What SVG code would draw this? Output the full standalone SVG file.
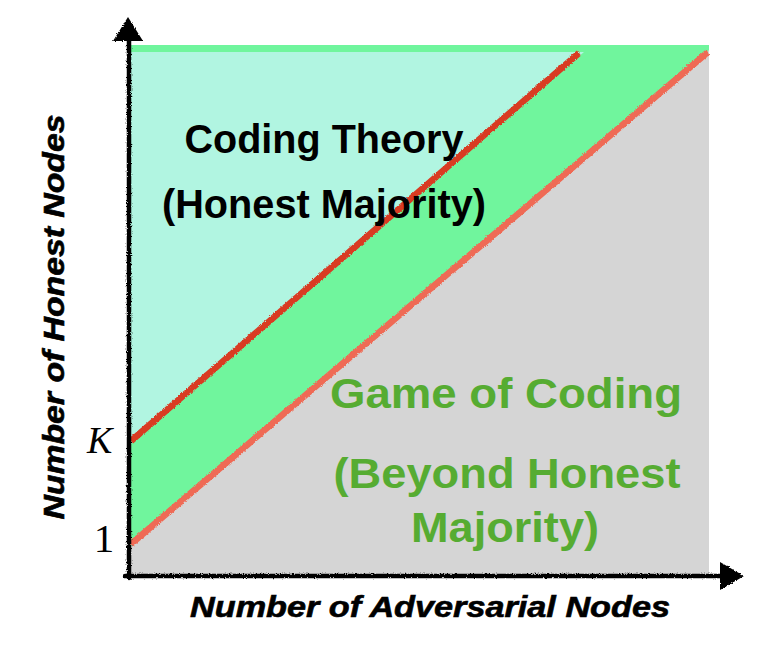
<svg xmlns="http://www.w3.org/2000/svg" width="774" height="672" viewBox="0 0 774 672">
<style>
.bt{font-family:"Liberation Sans",Arial,sans-serif;font-weight:bold;fill:#000;text-anchor:middle}
.gt{font-family:"Liberation Sans",Arial,sans-serif;font-weight:bold;fill:#56ac32;text-anchor:middle}
.ax{font-family:"Liberation Sans",Arial,sans-serif;font-weight:bold;font-style:italic;fill:#000;text-anchor:middle;stroke:#000;stroke-width:0.6}
.tick{font-family:"Liberation Serif","Times New Roman",serif;fill:#000}
.axis{stroke:#000;stroke-width:4.5;fill:none;stroke-linecap:round}
.head{fill:#000}
</style>
<defs>
<filter id="rough" x="-5%" y="-5%" width="110%" height="110%">
<feTurbulence type="fractalNoise" baseFrequency="0.9" numOctaves="2" seed="3" result="n"/>
<feDisplacementMap in="SourceGraphic" in2="n" scale="3" xChannelSelector="R" yChannelSelector="G"/>
</filter>
</defs>
<g id="regions">
<g id="band"><rect x="130" y="45" width="579" height="531" fill="#70f59d"/></g>
<g id="honest"><polygon points="130,52 584,52 130,445" fill="#b1f5e1"/></g>
<g id="beyond"><polygon points="130,547 709,50 709,576 130,576" fill="#d5d5d5"/></g>
</g>
<g id="connectors">
<line x1="131" y1="441" x2="579" y2="53" stroke="#d93a24" stroke-width="6.5" filter="url(#rough)"/>
<line x1="131" y1="544" x2="708" y2="52" stroke="#ef6a55" stroke-width="6.5" filter="url(#rough)"/>
<g filter="url(#rough)">
<line class="axis" x1="129" y1="578" x2="129" y2="38"/>
<polygon class="head" points="128,17 113,41 143,41"/>
<line class="axis" x1="125" y1="576" x2="722" y2="576"/>
<polygon class="head" points="744,576 720,562 720,590"/>
</g>
</g>
<g id="label-coding-theory">
<text class="bt" x="324" y="153" font-size="40" textLength="279" lengthAdjust="spacingAndGlyphs">Coding Theory</text>
<text class="bt" x="324" y="218" font-size="40" textLength="324" lengthAdjust="spacingAndGlyphs">(Honest Majority)</text>
</g>
<g id="label-game-of-coding">
<text class="gt" x="506" y="408" font-size="42" textLength="352" lengthAdjust="spacingAndGlyphs">Game of Coding</text>
<text class="gt" x="507" y="488" font-size="42" textLength="347" lengthAdjust="spacingAndGlyphs">(Beyond Honest</text>
<text class="gt" x="505" y="542" font-size="42" textLength="188" lengthAdjust="spacingAndGlyphs">Majority)</text>
</g>
<g id="ticks">
<text class="tick" x="87" y="453" font-size="38" font-style="italic">K</text>
<text class="tick" x="104" y="552" font-size="41" text-anchor="middle">1</text>
</g>
<g id="axis-labels">
<text class="ax" x="430" y="617" font-size="29" textLength="480" lengthAdjust="spacingAndGlyphs">Number of Adversarial Nodes</text>
<text class="ax" transform="translate(64,317) rotate(-90)" x="0" y="0" font-size="29" textLength="405" lengthAdjust="spacingAndGlyphs">Number of Honest Nodes</text>
</g>
</svg>
